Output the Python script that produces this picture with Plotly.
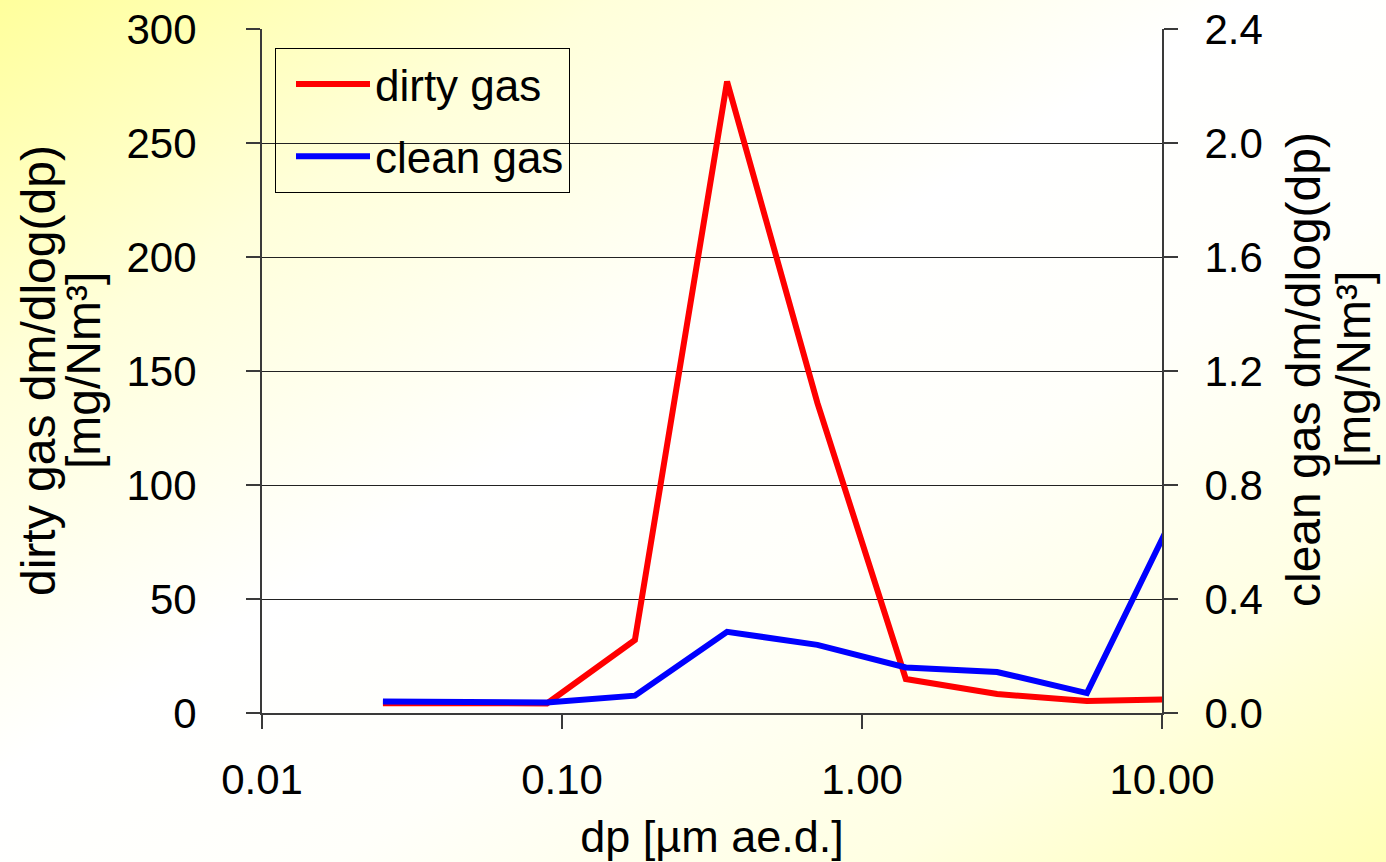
import base64
import plotly.graph_objects as go

# ---- data ----
dp_um = [0.0253, 0.0891, 0.175, 0.355, 0.71, 1.40, 2.82, 5.62, 11.3]
dirty_gas = [4.3, 4.2, 32.0, 277.0, 136.0, 14.9, 8.3, 5.3, 6.0]
clean_gas = [0.040, 0.037, 0.061, 0.285, 0.239, 0.160, 0.144, 0.070, 0.724]

x_tickvals = [0.01, 0.1, 1, 10]
x_ticktext = ["0.01", "0.10", "1.00", "10.00"]
series_names = ["dirty gas", "clean gas"]
left_title = ["dirty gas dm/dlog(dp)", "[mg/Nm³]"]
right_title = ["clean gas dm/dlog(dp)", "[mg/Nm³]"]
x_title = "dp [µm ae.d.]"

FONT = "Liberation Sans, Arial, sans-serif"
FS = 42
FS_TITLE = 48

W, H = 1386, 862
L, R, T, B = 262, 224, 29, 149
pw, ph = W - L - R, H - T - B


def px_x(px):
    return (px - L) / pw


def px_y(py):
    return 1 - (py - T) / ph


svg = (
    "<svg xmlns='http://www.w3.org/2000/svg' width='1386' height='862' preserveAspectRatio='none'>"
    "<defs><linearGradient id='g' x1='0' y1='0' x2='1' y2='1'>"
    "<stop offset='0' stop-color='#FFFF9C'/>"
    "<stop offset='0.22' stop-color='#FFFFDA'/>"
    "<stop offset='0.45' stop-color='#FFFFFF'/>"
    "<stop offset='0.62' stop-color='#FFFFFA'/>"
    "<stop offset='0.82' stop-color='#FFFFE2'/>"
    "<stop offset='1' stop-color='#FFFFB6'/>"
    "</linearGradient></defs>"
    "<rect width='1386' height='862' fill='url(#g)'/></svg>"
)
svg_uri = "data:image/svg+xml;base64," + base64.b64encode(svg.encode()).decode()

fig = go.Figure()
fig.add_trace(go.Scatter(
    x=dp_um, y=dirty_gas, name=series_names[0], mode="lines",
    line=dict(color="#FF0000", width=6), yaxis="y", legendgroup="a",
))
fig.add_trace(go.Scatter(
    x=dp_um, y=clean_gas, name=series_names[1], mode="lines",
    line=dict(color="#0000FF", width=6), yaxis="y2", legendgroup="b",
))

axis_common = dict(
    showline=True, linecolor="#3a3a3a", linewidth=2,
    ticks="outside", ticklen=14, tickwidth=1.5, tickcolor="#3a3a3a",
    tickfont=dict(family=FONT, size=FS, color="black"),
    zeroline=False, automargin=False,
)

title_font = dict(family=FONT, size=FS_TITLE, color="black")
annotations = [
    dict(text=left_title[0], x=px_x(38), y=px_y(371), textangle=-90),
    dict(text=left_title[1], x=px_x(83), y=px_y(371), textangle=-90),
    dict(text=right_title[0], x=px_x(1303), y=px_y(370), textangle=-90),
    dict(text=right_title[1], x=px_x(1353), y=px_y(370), textangle=-90),
]
for a in annotations:
    a.update(xref="paper", yref="paper", xanchor="center", yanchor="middle",
             showarrow=False, font=title_font)

fig.update_layout(
    width=W, height=H,
    margin=dict(l=L, r=R, t=T, b=B, pad=0, autoexpand=False),
    paper_bgcolor="white",
    plot_bgcolor="rgba(0,0,0,0)",
    font=dict(family=FONT, size=FS, color="black"),
    images=[dict(
        source=svg_uri, xref="paper", yref="paper",
        x=-L / pw, y=1 + T / ph, sizex=W / pw, sizey=H / ph,
        xanchor="left", yanchor="top", sizing="stretch", layer="below",
    )],
    annotations=annotations,
    xaxis=dict(
        type="log", range=[-2, 1],
        tickvals=x_tickvals, ticktext=x_ticktext,
        showgrid=False, ticklabelstandoff=15,
        title=dict(text=x_title, font=dict(family=FONT, size=45, color="black"), standoff=26),
        **axis_common,
    ),
    yaxis=dict(
        range=[0, 300], dtick=50, tick0=0,
        showgrid=True, gridcolor="#222222", gridwidth=1,
        ticklabelstandoff=41,
        **axis_common,
    ),
    yaxis2=dict(
        range=[0, 2.4], dtick=0.4, tick0=0, tickformat=".1f",
        overlaying="y", side="right", showgrid=False,
        ticklabelstandoff=18,
        **axis_common,
    ),
    legend=dict(
        x=px_x(275), y=px_y(48), xanchor="left", yanchor="top",
        bgcolor="rgba(0,0,0,0)", bordercolor="black", borderwidth=1,
        font=dict(family=FONT, size=44, color="black"),
        itemwidth=74, tracegroupgap=12, indentation=15,
    ),
    showlegend=True,
)

fig.write_html("out.html", post_script="document.body.style.margin='0';",
               config={"displayModeBar": False})
